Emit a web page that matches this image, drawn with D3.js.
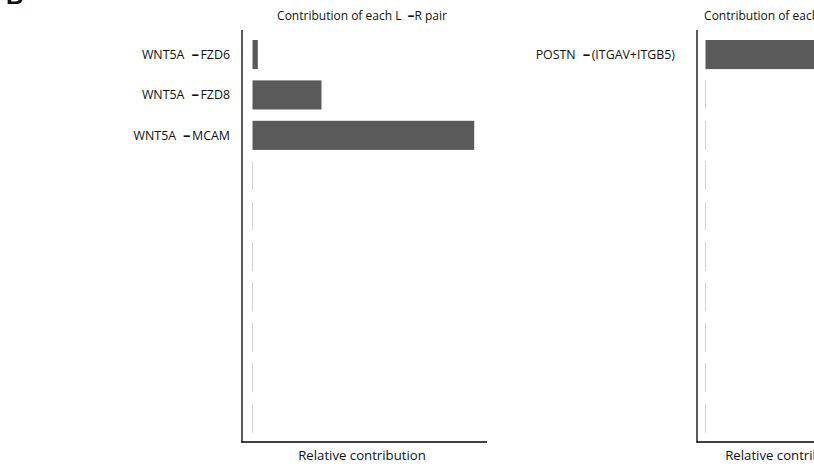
<!DOCTYPE html>
<html>
<head>
<meta charset="utf-8">
<script src="https://cdn.jsdelivr.net/npm/d3@7"></script>
<style>
  html, body { margin: 0; padding: 0; background: #fff; }
  svg { display: block; }
  text { font-family: "Open Sans", "Noto Sans", sans-serif; fill: #111; }
</style>
</head>
<body>
<svg id="chart" width="814" height="467"></svg>
<script>
// ---- data ----
const nRows = 10;
const leftLigands   = ["WNT5A", "WNT5A", "WNT5A"];
const leftReceptors = ["FZD6", "FZD8", "MCAM"];
const leftValues    = [0.018, 0.233, 0.749];

const rightLigands   = ["POSTN"];
const rightReceptors = ["(ITGAV+ITGB5)"];
const rightValues    = [1.0];

const panelTitle = "Contribution of each L";
const panelTitleTail = "R pair";
const xAxisTitle = "Relative contribution";

// ---- layout ----
const svg = d3.select("#chart");
const fill = "#5a5a5a";

svg.append("text")
  .attr("x", 6).attr("y", 4)
  .style("font-family", "'Liberation Sans', Arial, sans-serif")
  .style("font-weight", "bold").style("font-size", "24px")
  .text("B");

const y = d3.scaleBand()
  .domain(d3.range(nRows))
  .range([34.34, 438.34])
  .paddingInner(0.28)
  .paddingOuter(0.14);

function panel(cfg) {
  const g = svg.append("g");
  const rows = d3.range(nRows).map(i => ({
    i,
    lig: cfg.ligands[i] || "",
    rec: cfg.receptors[i] || "",
    v: cfg.values[i] || 0
  }));
  const x = d3.scaleLinear().domain([0, 1]).range([cfg.x0, cfg.x0 + 296]);

  // axes lines
  g.append("line")
    .attr("x1", cfg.axisX).attr("x2", cfg.axisX)
    .attr("y1", 30).attr("y2", 442.5)
    .attr("stroke", "#000").attr("stroke-width", 1.3);
  g.append("line")
    .attr("x1", cfg.axisX - 0.6).attr("x2", cfg.axisEnd)
    .attr("y1", 442).attr("y2", 442)
    .attr("stroke", "#000").attr("stroke-width", 1.3);

  // empty-row ticks
  g.selectAll("line.empty").data(rows.filter(d => d.v === 0)).join("line")
    .attr("class", "empty")
    .attr("x1", x(0)).attr("x2", x(0))
    .attr("y1", d => y(d.i)).attr("y2", d => y(d.i) + y.bandwidth())
    .attr("stroke", "#d2d2d2").attr("stroke-width", 1);

  // bars
  g.selectAll("rect.bar").data(rows.filter(d => d.v > 0)).join("rect")
    .attr("class", "bar")
    .attr("x", x(0))
    .attr("y", d => y(d.i))
    .attr("width", d => x(d.v) - x(0))
    .attr("height", y.bandwidth())
    .attr("fill", fill);

  // labels
  const lab = g.selectAll("text.lab").data(rows.filter(d => d.lig)).join("text")
    .attr("class", "lab")
    .attr("x", cfg.labelX)
    .attr("y", d => y(d.i) + y.bandwidth() / 2 + 4.3)
    .attr("text-anchor", "end")
    .style("font-size", "12.4px");
  lab.append("tspan").text(d => d.lig);
  lab.append("tspan").attr("dx", 7).style("font-weight", "bold").style("font-size", "15px").text("–");
  lab.append("tspan").attr("dx", 1.5).text(d => d.rec);

  // title
  const t = g.append("text")
    .attr("x", cfg.center).attr("y", 19.5)
    .attr("text-anchor", "middle")
    .style("font-size", "12px");
  t.append("tspan").text(panelTitle);
  t.append("tspan").attr("dx", 6).style("font-weight", "bold").style("font-size", "14px").text("–");
  t.append("tspan").text(panelTitleTail);

  g.append("text")
    .attr("x", cfg.center).attr("y", 460)
    .attr("text-anchor", "middle")
    .style("font-size", "13.2px")
    .text(xAxisTitle);
}

panel({
  ligands: leftLigands, receptors: leftReceptors, values: leftValues,
  x0: 252.5, axisX: 242, axisEnd: 487, labelX: 230, center: 362
});
panel({
  ligands: rightLigands, receptors: rightReceptors, values: rightValues,
  x0: 705.5, axisX: 697, axisEnd: 900, labelX: 675, center: 789
});
</script>
</body>
</html>
